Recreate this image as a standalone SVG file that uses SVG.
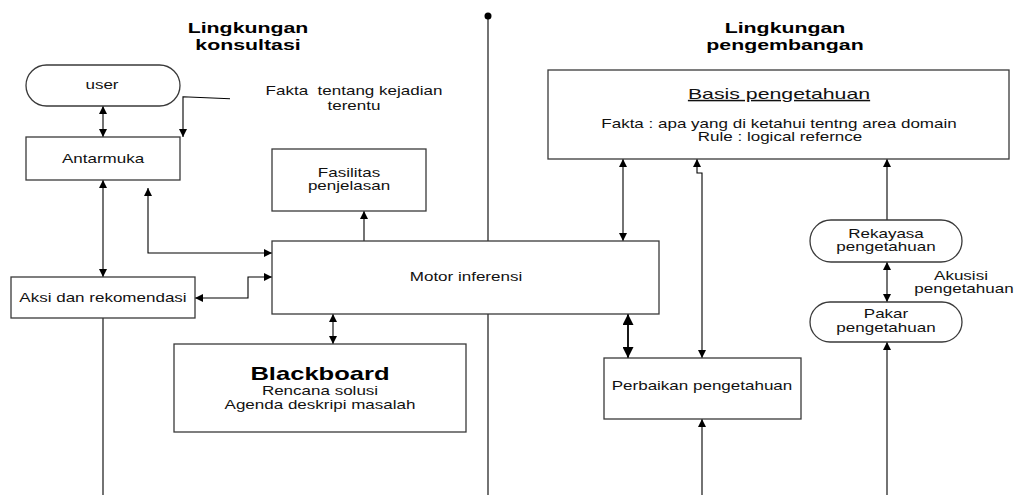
<svg xmlns="http://www.w3.org/2000/svg" width="1016" height="495" viewBox="0 0 1016 495">
<style>
.box{fill:#fff;stroke:#3a3a3a;stroke-width:1.3}
.t{font-family:"Liberation Sans",Arial,sans-serif;font-size:13px;fill:#111;text-anchor:middle}
.b{font-weight:bold;fill:#000}
.c{fill:none;stroke:#000;stroke-width:1.1}
.c2{fill:none;stroke:#000;stroke-width:1.8}
</style>
<defs>
<marker id="a" viewBox="0 0 10 10" refX="10" refY="5" markerWidth="8" markerHeight="8" markerUnits="userSpaceOnUse" orient="auto-start-reverse"><path d="M0,0 L10,5 L0,10 z" fill="#000"/></marker>
<marker id="A" viewBox="0 0 10 10" refX="10" refY="5" markerWidth="11" markerHeight="11" markerUnits="userSpaceOnUse" orient="auto-start-reverse"><path d="M0,0 L10,5 L0,10 z" fill="#000"/></marker>
</defs>

<g id="titles">
<text class="t b" transform="matrix(1.42 0 0 1 248 33)" style="font-size:15px">Lingkungan</text>
<text class="t b" transform="matrix(1.42 0 0 1 248 50)" style="font-size:15px">konsultasi</text>
<text class="t b" transform="matrix(1.42 0 0 1 785 33)" style="font-size:15px">Lingkungan</text>
<text class="t b" transform="matrix(1.42 0 0 1 785 50)" style="font-size:15px">pengembangan</text>
</g>

<g id="connectors">
<line class="c" x1="488" y1="16" x2="488" y2="495"/>
<circle cx="488" cy="16" r="3.5" fill="#000"/>
<line class="c" x1="103" y1="106" x2="103" y2="137" marker-start="url(#a)" marker-end="url(#a)"/>
<polyline class="c" points="230,98.7 183,96.7 183,137" marker-end="url(#a)"/>
<line class="c" x1="103" y1="180" x2="103" y2="277" marker-start="url(#a)" marker-end="url(#a)"/>
<polyline class="c" points="148,188 148,253 272,253" marker-start="url(#a)" marker-end="url(#a)"/>
<polyline class="c" points="195,298 248,298 248,277 272,277" marker-start="url(#a)" marker-end="url(#a)"/>
<line class="c" x1="364" y1="241" x2="364" y2="211" marker-end="url(#a)"/>
<line class="c" x1="333" y1="314" x2="333" y2="344" marker-start="url(#a)" marker-end="url(#a)"/>
<line class="c" x1="103" y1="318" x2="103" y2="495"/>
<line class="c" x1="623" y1="159" x2="623" y2="241" marker-start="url(#a)" marker-end="url(#a)"/>
<polyline class="c" points="697,159 697,173 702,173 702,358" marker-start="url(#a)" marker-end="url(#a)"/>
<line class="c2" x1="628" y1="314" x2="628" y2="358" marker-start="url(#A)" marker-end="url(#A)"/>
<line class="c" x1="702" y1="495" x2="702" y2="419" marker-end="url(#a)"/>
<line class="c" x1="887" y1="220" x2="887" y2="159" marker-end="url(#a)"/>
<line class="c" x1="887" y1="262" x2="887" y2="302" marker-start="url(#a)" marker-end="url(#a)"/>
<line class="c" x1="887" y1="495" x2="887" y2="342" marker-end="url(#a)"/>
</g>

<g id="user">
<rect class="box" x="26" y="65" width="154" height="41" rx="20.5"/>
<text class="t" transform="matrix(1.31 0 0 1 102 89)">user</text>
</g>
<g id="fakta-label">
<text class="t" transform="matrix(1.31 0 0 1 354 95)">Fakta&#160; tentang kejadian</text>
<text class="t" transform="matrix(1.31 0 0 1 354 110)">terentu</text>
</g>
<g id="antarmuka">
<rect class="box" x="26" y="137" width="154" height="43"/>
<text class="t" transform="matrix(1.31 0 0 1 103 163)">Antarmuka</text>
</g>
<g id="fasilitas">
<rect class="box" x="272" y="149" width="154" height="62"/>
<text class="t" transform="matrix(1.31 0 0 1 349 177)">Fasilitas</text>
<text class="t" transform="matrix(1.31 0 0 1 349 190)">penjelasan</text>
</g>
<g id="motor">
<rect class="box" x="272" y="241" width="387" height="73"/>
<text class="t" transform="matrix(1.31 0 0 1 466 281)">Motor inferensi</text>
</g>
<g id="aksi">
<rect class="box" x="11" y="277" width="184" height="41"/>
<text class="t" transform="matrix(1.31 0 0 1 103 302)">Aksi dan rekomendasi</text>
</g>
<g id="blackboard">
<rect class="box" x="174" y="344" width="292" height="88"/>
<text class="t b" transform="matrix(1.42 0 0 1 320 380)" style="font-size:18px">Blackboard</text>
<text class="t" transform="matrix(1.31 0 0 1 320 395)">Rencana solusi</text>
<text class="t" transform="matrix(1.31 0 0 1 320 409)">Agenda deskripi masalah</text>
</g>
<g id="basis">
<rect class="box" x="548" y="70" width="461" height="89"/>
<text class="t" transform="matrix(1.42 0 0 1 779 99)" style="font-size:15px;text-decoration:underline">Basis pengetahuan</text>
<text class="t" transform="matrix(1.31 0 0 1 779 128)">Fakta : apa yang di ketahui tentng area domain</text>
<text class="t" transform="matrix(1.31 0 0 1 780 141)">Rule : logical refernce</text>
</g>
<g id="perbaikan">
<rect class="box" x="604" y="358" width="197" height="61"/>
<text class="t" transform="matrix(1.31 0 0 1 702 390)">Perbaikan pengetahuan</text>
</g>
<g id="rekayasa">
<rect class="box" x="810" y="220" width="152" height="42" rx="21"/>
<text class="t" transform="matrix(1.31 0 0 1 886 238)">Rekayasa</text>
<text class="t" transform="matrix(1.31 0 0 1 886 251)">pengetahuan</text>
</g>
<g id="akusisi-label">
<text class="t" transform="matrix(1.31 0 0 1 961 280)">Akusisi</text>
<text class="t" transform="matrix(1.31 0 0 1 964 293)">pengetahuan</text>
</g>
<g id="pakar">
<rect class="box" x="810" y="302" width="152" height="40" rx="20"/>
<text class="t" transform="matrix(1.31 0 0 1 886 318)">Pakar</text>
<text class="t" transform="matrix(1.31 0 0 1 886 332)">pengetahuan</text>
</g>
</svg>
